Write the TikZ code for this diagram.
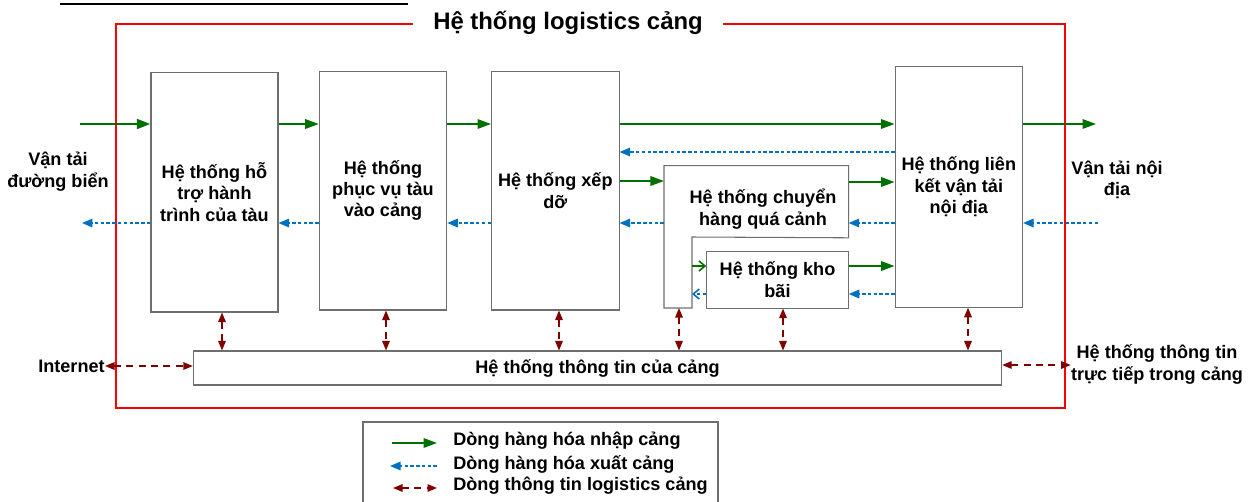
\documentclass[tikz,border=0pt]{standalone}
\usepackage{fontspec}
\setmainfont{Liberation Sans}
\usetikzlibrary{arrows.meta,positioning}
\definecolor{impgreen}{RGB}{0,112,0}
\definecolor{expblue}{RGB}{0,112,192}
\definecolor{infored}{RGB}{128,0,0}
\definecolor{boxgray}{RGB}{110,110,110}
\tikzset{
  sysbox/.style={draw=boxgray, line width=0.6pt, fill=white, inner sep=0pt, align=center,
    font=\bfseries\fontsize{10.3}{12.2}\selectfont},
  lbl/.style={inner sep=0pt, align=center, font=\bfseries\fontsize{10.3}{12.2}\selectfont},
  imp/.style={impgreen, line width=1pt, -{Triangle[length=0.27cm,width=0.19cm]}},
  exp/.style={expblue, line width=0.9pt, dash pattern=on 2pt off 1.3pt, -{Triangle[length=0.21cm,width=0.17cm]}},
  info/.style={infored, line width=0.8pt, dash pattern=on 4pt off 3pt,
    {Triangle[length=0.19cm,width=0.15cm]}-{Triangle[length=0.19cm,width=0.15cm]}},
}
\begin{document}
\begin{tikzpicture}[x=0.02cm, y=-0.02cm]
\useasboundingbox (0,0) rectangle (1250,501);
\draw[line width=0.7pt] (60,4) -- (408,4);
% outer frame
\draw[red, line width=1.4pt] (116,24) rectangle (1065,408);
\node[fill=white, inner xsep=0.4cm, inner ysep=2pt, font=\bfseries\fontsize{13.6}{16}\selectfont] (title) at (568,23) {Hệ thống logistics cảng};
% subsystems
\node[sysbox, minimum width=2.54cm, minimum height=4.8cm] (b1) at (214.5,192) {Hệ thống hỗ\\trợ hành\\trình của tàu};
\node[sysbox, minimum width=2.55cm, minimum height=4.78cm] (b2) at (383,190.5) {Hệ thống\\phục vụ tàu\\vào cảng};
\node[sysbox, minimum width=2.55cm, minimum height=4.78cm] (b3) at (555.3,190.5) {Hệ thống xếp\\dỡ};
\node[sysbox, minimum width=2.55cm, minimum height=4.81cm] (b4) at (958.8,187) {Hệ thống liên\\kết vận tải\\nội địa};
\node[sysbox, minimum width=2.83cm, minimum height=1.13cm] (kho) at (777.5,279.8) {Hệ thống kho\\bãi};
\node[inner sep=0pt, minimum width=3.68cm, minimum height=1.43cm] (tr) at (756.3,201.7) {};
\coordinate (trA) at (692,237);
\coordinate (trB) at (692,308);
\coordinate (trC) at (664,308);
\draw[boxgray, line width=0.6pt] (tr.north west) -- (tr.north east) -- (tr.south east) -- (trA) -- (trB) -- (trC) -- cycle;
\node[lbl] (trtxt) at (763,209) {Hệ thống chuyển\\hàng quá cảnh};
\node[sysbox, minimum width=16.17cm, minimum height=0.68cm] (info) at (597.5,368) {Hệ thống thông tin của cảng};
% outside
\node[lbl] (sea) at (58,171.5) {Vận tải\\đường biển};
\node[lbl] (land) at (1117,180) {Vận tải nội\\địa};
\node[lbl, anchor=east] (inet) at (105,366) {Internet};
\node[lbl] (direct) at (1157,364.5) {Hệ thống thông tin\\trực tiếp trong cảng};
\coordinate (seaIn) at (80,124);
\coordinate (seaOut) at (82,223);
\coordinate (landOut) at (1096,124);
\coordinate (landIn) at (1098,223);
% import flow
\draw[imp, line width=1.6pt] (seaIn) -- (b1.west |- seaIn);
\draw[imp] (b1.east |- seaIn) -- (b2.west |- seaIn);
\draw[imp] (b2.east |- seaIn) -- (b3.west |- seaIn);
\draw[imp] (b3.east |- seaIn) -- (b4.west |- seaIn);
\draw[imp] (b4.east |- landOut) -- (landOut);
\draw[imp] (b3.east |- 0,181) -- (tr.west |- 0,181);
\draw[imp] (tr.east |- 0,182) -- (b4.west |- 0,182);
\draw[impgreen, line width=0.9pt, -{Straight Barb[length=0.12cm,width=0.2cm]}] (trA |- 0,266) -- (kho.west |- 0,266);
\draw[imp] (kho.east |- 0,266) -- (b4.west |- 0,266);
% export flow
\draw[exp] (b4.west |- 0,152) -- (b3.east |- 0,152);
\draw[exp] (landIn) -- (b4.east |- landIn);
\draw[exp] (b4.west |- landIn) -- (tr.east |- landIn);
\draw[exp] (tr.west |- landIn) -- (b3.east |- landIn);
\draw[exp] (b3.west |- landIn) -- (b2.east |- landIn);
\draw[exp] (b2.west |- landIn) -- (b1.east |- landIn);
\draw[exp] (b1.west |- seaOut) -- (seaOut);
\draw[exp] (b4.west |- 0,294) -- (kho.east |- 0,294);
\draw[expblue, line width=0.9pt, dash pattern=on 2pt off 1.3pt, -{Straight Barb[length=0.12cm,width=0.2cm]}] (kho.west |- 0,294) -- (trA |- 0,294);
% information flow
\foreach \n/\x in {b1.south/222, b2.south/386, b3.south/559, trC/679, kho.south/783, b4.south/968}
  \draw[info] (\n -| \x,0) -- (info.north -| \x,0);
\draw[info] (inet.east) -- (info.west |- inet.east);
\draw[info] (info.east |- 0,365) -- (direct.west |- 0,365);
% legend
\draw[boxgray, line width=0.6pt] (363,422) rectangle (718,520);
\node[lbl, anchor=west] (lg1) at (453,441) {Dòng hàng hóa nhập cảng};
\node[lbl, anchor=west] (lg2) at (453,464) {Dòng hàng hóa xuất cảng};
\node[lbl, anchor=west] (lg3) at (453,486) {Dòng thông tin logistics cảng};
\draw[imp] ([xshift=-1.22cm, yshift=-0.04cm]lg1.west) -- ([xshift=-0.32cm, yshift=-0.04cm]lg1.west);
\draw[exp] ([xshift=-0.32cm, yshift=-0.04cm]lg2.west) -- ([xshift=-1.26cm, yshift=-0.04cm]lg2.west);
\draw[info] ([xshift=-1.2cm, yshift=-0.04cm]lg3.west) -- ([xshift=-0.32cm, yshift=-0.04cm]lg3.west);
\end{tikzpicture}
\end{document}
